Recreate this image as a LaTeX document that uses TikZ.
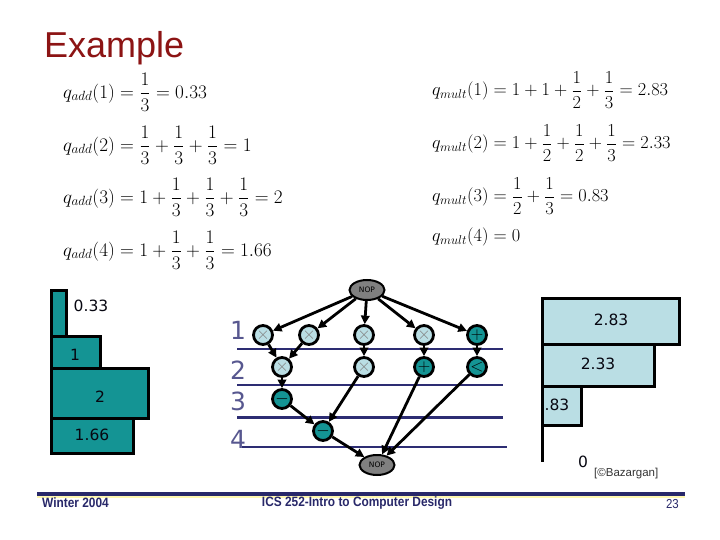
\documentclass[tikz,border=0pt]{standalone}
\usepackage{fontspec}
\setmainfont{Liberation Serif}
\newfontfamily\arial{Liberation Sans}
\newfontfamily\verd{DejaVu Sans}
\usetikzlibrary{shapes.geometric,arrows.meta}
\definecolor{titlered}{RGB}{140,20,20}
\definecolor{tealfill}{RGB}{20,148,148}
\definecolor{lightbl}{RGB}{186,222,228}
\definecolor{navy}{RGB}{45,45,115}
\definecolor{nopgray}{RGB}{128,128,128}
\definecolor{foot}{RGB}{40,40,105}
\definecolor{yel}{RGB}{255,248,176}
\newcommand{\eqL}[1]{\scalebox{1.11}{$\displaystyle #1$}}
\newcommand{\eqR}[1]{\scalebox{1.06}{$\displaystyle #1$}}
\tikzset{
  eq/.style={anchor=west, inner sep=0pt, font=\fontsize{17}{20}\selectfont},
  opnode/.style={circle, draw=black, line width=2.8pt, minimum size=19pt, inner sep=0pt},
  mulop/.style={opnode, fill=lightbl, text=gray, font=\fontsize{17}{17}\selectfont},
  tealop/.style={opnode, fill=tealfill, text=black, font=\fontsize{16}{16}\selectfont},
  nop/.style={ellipse, draw=black, line width=2pt, fill=nopgray, minimum width=35pt, minimum height=20pt, inner sep=0pt, font=\verd\fontsize{7.5}{8}\selectfont},
  arr/.style={-{Triangle[length=8.5pt,width=8.5pt]}, line width=2.8pt},
  lvl/.style={navy, line width=2.4pt},
  lbar/.style={draw=black, line width=3pt, fill=tealfill},
  rbar/.style={draw=black, line width=3pt, fill=lightbl},
  barlbl/.style={font=\verd\fontsize{15.5}{16}\selectfont, text=black!85!navy, inner sep=0pt},
  rowlbl/.style={font=\verd\fontsize{25}{26}\selectfont, text=navy!80, inner sep=0pt},
  foottxt/.style={font=\arial\bfseries\fontsize{13.5}{14}\selectfont, text=foot, inner sep=0pt, xscale=0.88}
}
\begin{document}
\begin{tikzpicture}[x=1pt,y=-1pt]
\useasboundingbox (0,0) rectangle (720,540);
% title
\node[anchor=base west, inner sep=0pt, text=titlered, font=\arial\fontsize{36}{38}\selectfont] (title) at (44,58) {Example};
% equations left
\node[eq] (ea1) at (63,92) {\eqL{q_{add}(1)=\frac13=0.33}};
\node[eq] (ea2) at (63,145) {\eqL{q_{add}(2)=\frac13+\frac13+\frac13=1}};
\node[eq] (ea3) at (63,197) {\eqL{q_{add}(3)=1+\frac13+\frac13+\frac13=2}};
\node[eq] (ea4) at (63,250) {\eqL{q_{add}(4)=1+\frac13+\frac13=1.66}};
% equations right
\node[eq] (em1) at (432,90) {\eqR{q_{mult}(1)=1+1+\frac12+\frac13=2.83}};
\node[eq] (em2) at (432,143) {\eqR{q_{mult}(2)=1+\frac12+\frac12+\frac13=2.33}};
\node[eq] (em3) at (432,196) {\eqR{q_{mult}(3)=\frac12+\frac13=0.83}};
\node[eq] (em4) at (432,237) {\eqR{q_{mult}(4)=0}};
% left bars
\draw[lbar] (51,418) rectangle (133,453);
\draw[lbar] (51,368) rectangle (148,418);
\draw[lbar] (51,336) rectangle (100,368);
\draw[lbar] (51,290) rectangle (66.5,336);
\node[barlbl] (l1) at (91,306) {0.33};
\node[barlbl] (l2) at (75,355) {1};
\node[barlbl] (l3) at (100,397) {2};
\node[barlbl] (l4) at (92,435) {1.66};
% right bars
\draw[line width=3pt] (542,386) -- (542,462);
\draw[rbar] (542,298) rectangle (679,344);
\draw[rbar] (542,344) rectangle (654,386);
\draw[rbar] (542,386) rectangle (581.5,425.5);
\node[barlbl] (r1) at (611,320) {2.83};
\node[barlbl] (r2) at (598,364) {2.33};
\node[barlbl] (r3) at (557,405) {.83};
\node[barlbl] (r0) at (583,462) {0};
\node[anchor=west, inner sep=0pt, font=\arial\fontsize{11.5}{12}\selectfont, text=black!80] (cite) at (594,474) {[\textcopyright Bazargan]};
% level lines
\draw[lvl] (237,349) -- (503,349);
\draw[lvl] (237,385) -- (503,385);
\draw[lvl] (237,417.5) -- (503,417.5);
\draw[lvl] (242,447) -- (507,447);
\node[rowlbl] (n1) at (238,330) {1};
\node[rowlbl] (n2) at (238,370) {2};
\node[rowlbl] (n3) at (238,401) {3};
\node[rowlbl] (n4) at (238,439) {4};
% graph nodes
\node[nop] (top) at (367,290) {NOP};
\node[nop] (bot) at (377,465) {NOP};
\node[mulop] (a1) at (263,335) {$\times$};
\node[mulop] (a2) at (309,335) {$\times$};
\node[mulop] (a3) at (364,335) {$\times$};
\node[mulop] (a4) at (424,335) {$\times$};
\node[tealop] (a5) at (477,335) {$+$};
\node[mulop] (b1) at (282,367) {$\times$};
\node[mulop] (b2) at (364,367) {$\times$};
\node[tealop] (b3) at (424,367) {$+$};
\node[tealop] (b4) at (477,367) {$<$};
\node[tealop] (c1) at (282,399) {$-$};
\node[tealop] (d1) at (323,431) {$-$};
% edges
\foreach \t in {a1,a2,a3,a4,a5} \draw[arr] (top) -- (\t);
\draw[arr] (a1) -- (b1);
\draw[arr] (a2) -- (b1);
\draw[arr] (a3) -- (b2);
\draw[arr] (a4) -- (b3);
\draw[arr] (a5) -- (b4);
\draw[arr] (b1) -- (c1);
\draw[arr] (c1) -- (d1);
\draw[arr] (b2) -- (d1);
\draw[arr] (d1) -- (bot);
\draw[arr] (b3) -- (bot);
\draw[arr] (b4) -- (bot);
% footer
\draw[yel, line width=1.5pt] (37,497) -- (685,497);
\draw[foot, line width=3.2pt] (37,494) -- (685,494);
\node[foottxt, anchor=west] (f1) at (42,503) {Winter 2004};
\node[foottxt] (f2) at (357,503) {ICS 252-Intro to Computer Design};
\node[foottxt, font=\arial\fontsize{13}{14}\selectfont, anchor=east] (f3) at (679,504) {23};
\end{tikzpicture}
\end{document}
